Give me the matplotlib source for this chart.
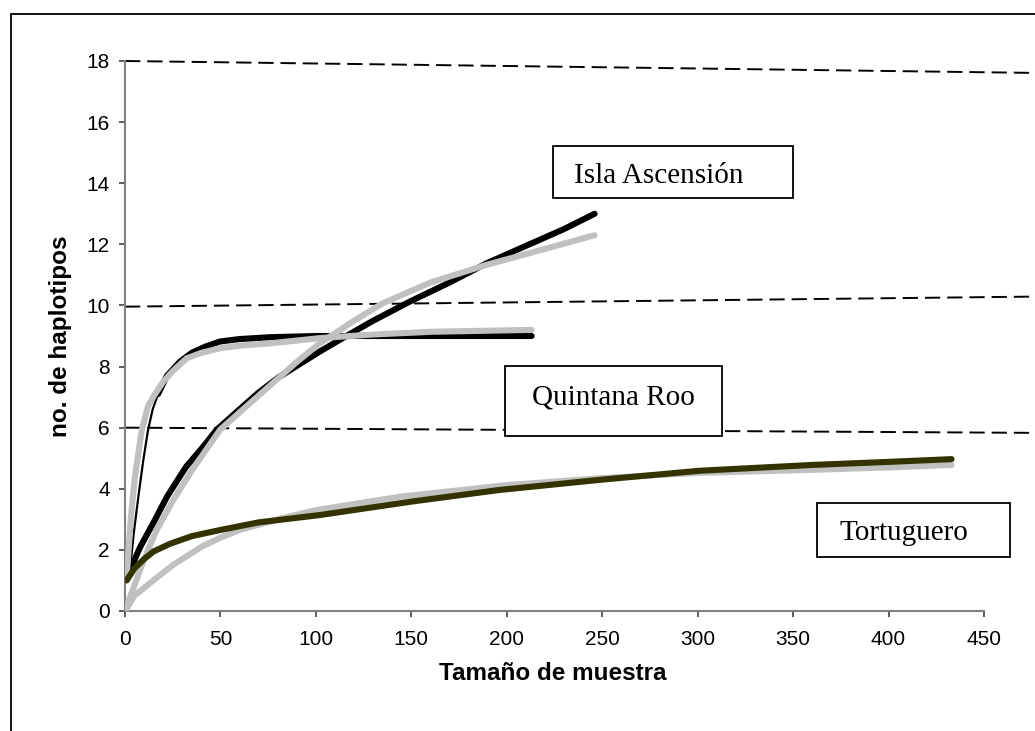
import matplotlib
matplotlib.use("Agg")
import matplotlib.pyplot as plt
from matplotlib.patches import Rectangle

plt.rcParams['lines.scale_dashes'] = False

# ---------------- data ----------------
qr_obs_x = [2.6, 4.5, 7, 9.5, 12, 14.5, 17.3, 22, 28.8, 35, 42, 49.8, 60, 76, 100, 150, 213]
qr_obs_y = [1.34, 2.5, 3.74, 4.9, 5.9, 6.6, 7.1, 7.7, 8.16, 8.45, 8.65, 8.82, 8.9, 8.96, 9.0, 9.0, 9.0]

qr_fit_x = [1, 3, 5, 8.7, 12, 15.7, 20, 25, 32.3, 40, 49.8, 60, 76, 102, 130, 161, 213]
qr_fit_y = [1.2, 3.0, 4.3, 5.9, 6.7, 7.1, 7.5, 7.85, 8.27, 8.45, 8.6, 8.68, 8.76, 8.93, 9.05, 9.14, 9.2]

ia_obs_x = [2.6, 8, 15, 22, 32, 41, 48, 60, 70, 81, 92, 102, 114, 130, 149, 170, 189.5, 210, 230, 246]
ia_obs_y = [1.34, 2.1, 2.9, 3.74, 4.72, 5.38, 5.93, 6.6, 7.15, 7.67, 8.1, 8.49, 8.93, 9.5, 10.12, 10.75, 11.38, 11.95, 12.5, 13.0]

ia_fit_x = [0, 4.4, 10, 16.6, 25, 35, 49.8, 60, 70, 80, 90, 102, 120, 135, 160, 189.5, 220, 246]
ia_fit_y = [0, 0.75, 1.7, 2.65, 3.6, 4.6, 5.93, 6.5, 7.05, 7.6, 8.15, 8.76, 9.5, 10.07, 10.75, 11.33, 11.85, 12.3]

tor_obs_x = [0.9, 5, 10, 15, 23.6, 35, 49.8, 70, 102, 150, 196, 250, 301, 360, 400, 433]
tor_obs_y = [1.0, 1.4, 1.7, 1.95, 2.2, 2.45, 2.65, 2.9, 3.14, 3.58, 3.96, 4.3, 4.59, 4.78, 4.88, 4.97]

tor_fit_x = [0, 5, 14.8, 25, 40, 50, 60, 80, 100, 144, 200, 250, 300, 360, 400, 433]
tor_fit_y = [0, 0.5, 1.0, 1.5, 2.1, 2.4, 2.65, 3.0, 3.3, 3.74, 4.12, 4.35, 4.52, 4.62, 4.7, 4.78]

# sloped dashed guide lines (start at x=0, run to the picture edge)
guide_x = [0, 476.7]
guide_18 = [18.0, 17.61]
guide_10 = [9.96, 10.29]
guide_6 = [6.0, 5.83]

x_ticks = [0, 50, 100, 150, 200, 250, 300, 350, 400, 450]
y_ticks = [0, 2, 4, 6, 8, 10, 12, 14, 16, 18]

box_labels = ["Isla Ascensión", "Quintana Roo", "Tortuguero"]

# ---------------- figure ----------------
W, H = 1035, 731
fig = plt.figure(figsize=(W / 100, H / 100), dpi=100)
fig.patch.set_facecolor('white')

def fx(px):
    return px / W

def fy(py):
    return 1 - py / H

ax = fig.add_axes([fx(125), fy(611), fx(984) - fx(125), fy(61) - fy(611)])
ax.set_xlim(0, 450)
ax.set_ylim(0, 18)

gray = '#c0c0c0'
black = '#000000'
olive = '#333300'
lw = 4.4

# guide lines
for gy in (guide_18, guide_10, guide_6):
    ax.plot(guide_x, gy, color='black', lw=1.4, linestyle=(0, (11, 5)), clip_on=False, zorder=1)

# Quintana Roo
ax.plot(qr_obs_x[:7], qr_obs_y[:7], color=black, lw=1.6, solid_capstyle='round', zorder=3)
ax.plot(qr_obs_x[6:], qr_obs_y[6:], color=black, lw=lw, solid_capstyle='round', zorder=3)
ax.plot(qr_fit_x, qr_fit_y, color=gray, lw=lw, solid_capstyle='round', zorder=4)

# Isla Ascension
ax.plot(ia_obs_x, ia_obs_y, color=black, lw=lw, solid_capstyle='round', zorder=3)
ax.plot(ia_fit_x, ia_fit_y, color=gray, lw=lw, solid_capstyle='round', zorder=4)

# Tortuguero
ax.plot(tor_fit_x, tor_fit_y, color=gray, lw=lw, solid_capstyle='round', zorder=3)
ax.plot(tor_obs_x, tor_obs_y, color=olive, lw=lw, solid_capstyle='round', zorder=4)

# axes styling
for s in ('top', 'right'):
    ax.spines[s].set_visible(False)
for s in ('left', 'bottom'):
    ax.spines[s].set_color('#808080')
    ax.spines[s].set_linewidth(1.5)
ax.set_xticks(x_ticks)
ax.set_yticks(y_ticks)
ax.tick_params(axis='both', direction='out', length=4, width=1.2, color='#404040',
               labelsize=15)
ax.tick_params(axis='x', pad=10)
ax.tick_params(axis='y', pad=7)
for lab in ax.get_xticklabels() + ax.get_yticklabels():
    lab.set_fontfamily('Liberation Sans')

fig.text(fx(553), fy(673), "Tamaño de muestra", ha='center', va='center',
         fontsize=17.5, fontweight='bold', family='Liberation Sans')
fig.text(fx(60), fy(336), "no. de haplotipos", ha='center', va='center', rotation=90,
         fontsize=17.5, fontweight='bold', family='Liberation Sans')

# text boxes (pixel positions)
boxes = [((552.7, 146, 793.3, 198.3), (574, 183)),
         ((505, 366, 721.7, 436), (531.7, 404)),
         ((816.7, 503.3, 1010, 556.7), (839.3, 540))]
for label, ((x0, y0, x1, y1), (tx, ty)) in zip(box_labels, boxes):
    fig.add_artist(Rectangle((fx(x0), fy(y1)), fx(x1) - fx(x0), fy(y0) - fy(y1),
                             transform=fig.transFigure, facecolor='white',
                             edgecolor='black', lw=1.3, zorder=5))
    fig.text(fx(tx), fy(ty), label, ha='left', va='baseline', fontsize=21,
             family='Liberation Serif', zorder=6)

# outer frame
fig.add_artist(Rectangle((fx(11), fy(760)), fx(1100) - fx(11), fy(14) - fy(760),
                         transform=fig.transFigure, facecolor='none',
                         edgecolor='black', lw=1.3, zorder=0))

fig.savefig("out.png", dpi=100)
